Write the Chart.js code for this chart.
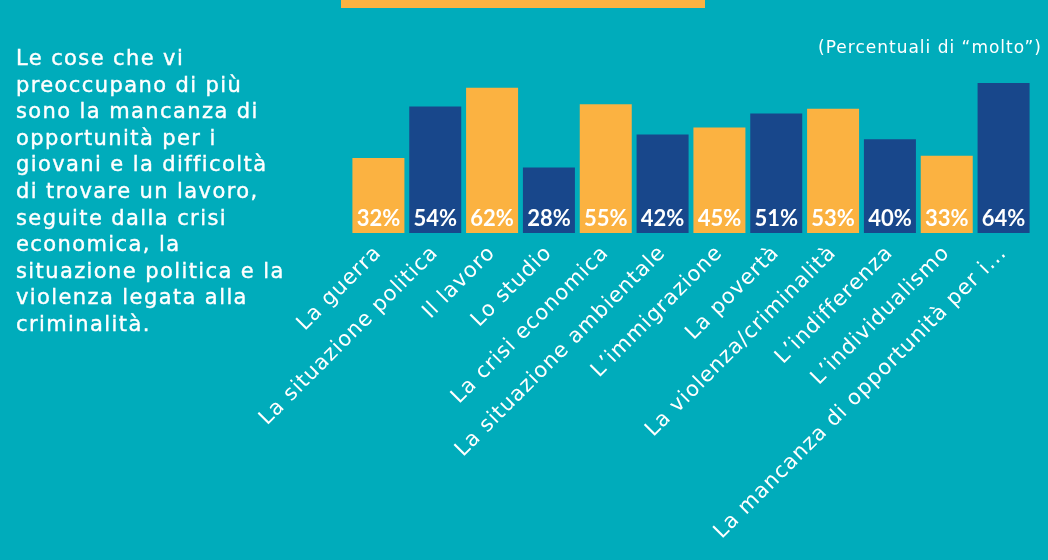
<!DOCTYPE html>
<html>
<head>
<meta charset="utf-8">
<script src="https://cdn.jsdelivr.net/npm/chart.js@4.4.1/dist/chart.umd.min.js"></script>
<style>
  html, body { margin: 0; padding: 0; }
  body { width: 1048px; height: 560px; background: #00ACBB; position: relative; overflow: hidden; font-family: "DejaVu Sans", sans-serif; }
  #wrap { position: absolute; left: 0; top: 0; width: 1048px; height: 560px; }
  #banner { position: absolute; left: 341px; top: 0; width: 364px; height: 8px; background: #FBB241; }
  #intro { position: absolute; left: 16px; top: 45px; width: 330px; color: #fff; font-size: 21px; font-weight: 400; line-height: 26.6px; letter-spacing: 1.4px; -webkit-text-stroke: 0.4px #fff; z-index: 2; }
  #unit { position: absolute; right: 6px; top: 37px; color: #fff; font-size: 17px; font-weight: 400; letter-spacing: 1px; white-space: nowrap; z-index: 2; }
</style>
</head>
<body>
<div id="banner"></div>
<div id="intro">Le cose che vi<br>preoccupano di più<br>sono la mancanza di<br>opportunità per i<br>giovani e la difficoltà<br>di trovare un lavoro,<br>seguite dalla crisi<br>economica, la<br>situazione politica e la<br>violenza legata alla<br>criminalità.</div>
<div id="unit">(Percentuali di “molto”)</div>
<div id="wrap"><canvas id="c" width="1048" height="560"></canvas></div>
<script>
const categories = [
  "La guerra",
  "La situazione politica",
  "Il lavoro",
  "Lo studio",
  "La crisi economica",
  "La situazione ambientale",
  "L’immigrazione",
  "La povertà",
  "La violenza/criminalità",
  "L’indifferenza",
  "L’individualismo",
  "La mancanza di opportunità per i..."
];
const values = [32, 54, 62, 28, 55, 42, 45, 51, 53, 40, 33, 64];

const ORANGE = "#FBB241";
const NAVY = "#18478B";

const spacing = {
  id: "spacing",
  beforeUpdate(chart) { chart.ctx.letterSpacing = "1px"; },
  beforeLayout(chart) { chart.ctx.letterSpacing = "1px"; },
  beforeDraw(chart) { chart.ctx.letterSpacing = "1px"; }
};

const valueLabels = {
  id: "valueLabels",
  afterDatasetsDraw(chart) {
    const ctx = chart.ctx;
    const meta = chart.getDatasetMeta(0);
    ctx.save();
    ctx.letterSpacing = "0px";
    ctx.fillStyle = "#ffffff";
    ctx.font = "bold 22px Lato, sans-serif";
    ctx.textAlign = "center";
    ctx.textBaseline = "alphabetic";
    meta.data.forEach((bar, i) => {
      ctx.fillText(chart.data.datasets[0].data[i] + "%", bar.x, bar.base - 7);
    });
    ctx.restore();
  }
};

new Chart(document.getElementById("c"), {
  type: "bar",
  data: {
    labels: categories,
    datasets: [{
      data: values,
      backgroundColor: ctx => (ctx.dataIndex % 2 ? NAVY : ORANGE),
      borderWidth: 0,
      barPercentage: 1,
      categoryPercentage: 0.915
    }]
  },
  options: {
    responsive: false,
    animation: false,
    layout: { padding: { left: 350, right: 16, top: 69, bottom: 0 } },
    plugins: { legend: { display: false }, tooltip: { enabled: false } },
    scales: {
      y: { display: false, min: 0, max: 70 },
      x: {
        grid: { display: false, drawTicks: false },
        border: { display: false },
        ticks: {
          color: "#ffffff",
          font: { family: "'DejaVu Sans', sans-serif", size: 21, weight: 400 },
          minRotation: 45,
          maxRotation: 45,
          autoSkip: false,
          padding: 8
        },
        afterFit(scale) { scale.height = 327; }
      }
    }
  },
  plugins: [spacing, valueLabels]
});
</script>
</body>
</html>
